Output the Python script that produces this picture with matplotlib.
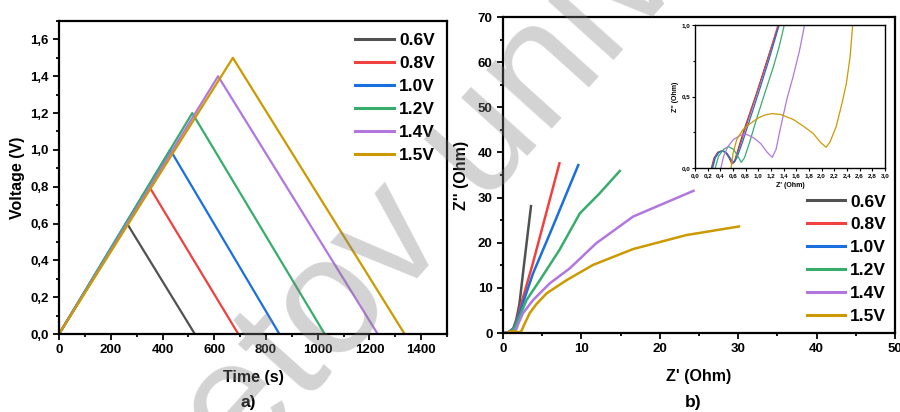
import numpy as np
import matplotlib.pyplot as plt
from matplotlib.ticker import MultipleLocator, FuncFormatter

plt.rcParams['font.family'] = ['Liberation Sans', 'DejaVu Sans']
plt.rcParams['font.weight'] = 'bold'

labels = ['0.6V', '0.8V', '1.0V', '1.2V', '1.4V', '1.5V']
colors = ['#515151', '#F14040', '#1A6FDF', '#37AD6B', '#B177DE', '#CC9900']

# GCD: (time, voltage) for charge peak and end of discharge
peak_t = [263, 349, 430, 515, 615, 672]
peak_v = [0.6, 0.8, 1.0, 1.2, 1.4, 1.5]
end_t = [525, 693, 852, 1027, 1232, 1336]

# Nyquist data, Z' and Z'' (Ohm)
zre_06 = [0.26, 0.30, 0.36, 0.42, 0.48, 0.54, 0.58, 0.62, 0.70, 0.80, 0.97, 1.15, 1.32, 1.7, 2.1, 2.6, 3.57]
zim_06 = [0.0, 0.07, 0.11, 0.12, 0.11, 0.07, 0.03, 0.04, 0.16, 0.30, 0.52, 0.77, 1.0, 3.0, 6.5, 14.0, 28.1]
zre_08 = [0.27, 0.31, 0.37, 0.43, 0.49, 0.55, 0.59, 0.63, 0.72, 0.82, 0.99, 1.15, 1.31, 1.7, 2.1, 3.8, 5.5, 7.2]
zim_08 = [0.0, 0.07, 0.11, 0.12, 0.11, 0.07, 0.03, 0.05, 0.17, 0.31, 0.54, 0.76, 1.0, 2.5, 5.1, 15.4, 26.5, 37.6]
zre_10 = [0.28, 0.32, 0.38, 0.45, 0.51, 0.57, 0.62, 0.66, 0.75, 0.86, 1.0, 1.17, 1.33, 1.7, 2.1, 3.83, 6.0, 9.6]
zim_10 = [0.0, 0.07, 0.11, 0.12, 0.10, 0.06, 0.04, 0.07, 0.18, 0.33, 0.52, 0.76, 1.0, 2.3, 4.4, 13.2, 22.1, 37.2]
zre_12 = [0.32, 0.37, 0.45, 0.53, 0.61, 0.68, 0.73, 0.78, 0.87, 0.97, 1.1, 1.24, 1.33, 1.41,
          1.7, 2.1, 3.0, 4.7, 7.2, 9.8, 12.3, 14.9]
zim_12 = [0.0, 0.08, 0.13, 0.15, 0.13, 0.08, 0.04, 0.07, 0.19, 0.34, 0.52, 0.71, 0.85, 1.0,
          2.0, 3.6, 7.3, 11.7, 18.4, 26.5, 30.9, 35.9]
zre_14 = [0.41, 0.45, 0.52, 0.61, 0.72, 0.82, 0.93, 1.04, 1.14, 1.22, 1.28, 1.35, 1.45, 1.55, 1.65, 1.73,
          1.96, 2.55, 3.83, 5.96, 8.5, 11.9, 16.6, 24.3]
zim_14 = [0.0, 0.08, 0.15, 0.20, 0.23, 0.235, 0.21, 0.17, 0.11, 0.075, 0.13, 0.28, 0.48, 0.64, 0.82, 1.0,
          2.1, 4.4, 7.3, 11.0, 14.3, 19.9, 25.8, 31.5]
zre_15 = [0.57, 0.60, 0.66, 0.76, 0.87, 1.0, 1.1, 1.21, 1.35, 1.55, 1.72, 1.87, 1.98, 2.07, 2.13, 2.23,
          2.32, 2.39, 2.45, 2.49, 2.77, 3.4, 4.26, 5.57, 8.1, 11.5, 16.6, 23.4, 30.1]
zim_15 = [0.0, 0.10, 0.20, 0.27, 0.31, 0.35, 0.37, 0.38, 0.375, 0.34, 0.29, 0.24, 0.18, 0.145, 0.18, 0.29,
          0.45, 0.59, 0.78, 1.0, 2.1, 4.4, 6.4, 8.8, 11.7, 15.1, 18.6, 21.7, 23.6]
zre = [zre_06, zre_08, zre_10, zre_12, zre_14, zre_15]
zim = [zim_06, zim_08, zim_10, zim_12, zim_14, zim_15]

comma = FuncFormatter(lambda v, p: f"{v:.1f}".replace('.', ','))


def style(ax, lw=1.6, size=9.5, major=4, minor=2.5):
    for s in ax.spines.values():
        s.set_linewidth(lw)
    ax.tick_params(which='both', direction='out', width=lw * 0.8, labelsize=size, top=False, right=False)
    ax.tick_params(which='major', length=major)
    ax.tick_params(which='minor', length=minor)
    for t in ax.get_xticklabels() + ax.get_yticklabels():
        t.set_fontweight('bold')


def big_legend(ax, **kw):
    leg = ax.legend(frameon=False, fontsize=12.5, handlelength=2.2, labelspacing=0.45,
                    handletextpad=0.3, **kw)
    for line in leg.get_lines():
        line.set_linewidth(2.2)
    for t in leg.get_texts():
        t.set_fontweight('bold')


fig = plt.figure(figsize=(9, 4.12), dpi=100)

# (a) charge-discharge
ax1 = fig.add_axes([0.0656, 0.1893, 0.4311, 0.7597])
for i in range(len(labels)):
    ax1.plot([0, peak_t[i], end_t[i]], [0, peak_v[i], 0], color=colors[i], lw=1.6, label=labels[i])
ax1.set_xlim(0, 1500)
ax1.set_ylim(0, 1.7)
ax1.xaxis.set_major_locator(MultipleLocator(200))
ax1.xaxis.set_minor_locator(MultipleLocator(100))
ax1.yaxis.set_major_locator(MultipleLocator(0.2))
ax1.yaxis.set_minor_locator(MultipleLocator(0.1))
ax1.yaxis.set_major_formatter(comma)
style(ax1)
ax1.set_xlabel('Time (s)', fontsize=11.5, fontweight='bold', labelpad=10)
ax1.set_ylabel('Voltage (V)', fontsize=11.5, fontweight='bold', labelpad=4)
big_legend(ax1, loc='upper right', borderaxespad=0.3)

# (b) Nyquist
ax2 = fig.add_axes([0.5589, 0.1917, 0.4355, 0.767])
for i in range(len(labels)):
    ax2.plot(zre[i], zim[i], color=colors[i], lw=1.8, label=labels[i])
ax2.set_xlim(0, 50)
ax2.set_ylim(0, 70)
ax2.xaxis.set_major_locator(MultipleLocator(10))
ax2.xaxis.set_minor_locator(MultipleLocator(5))
ax2.yaxis.set_major_locator(MultipleLocator(10))
ax2.yaxis.set_minor_locator(MultipleLocator(5))
style(ax2)
ax2.set_xlabel("Z' (Ohm)", fontsize=11.5, fontweight='bold', labelpad=10)
ax2.set_ylabel("Z'' (Ohm)", fontsize=11.5, fontweight='bold', labelpad=6)
big_legend(ax2, loc='lower right', borderaxespad=0.1)

# inset
ax3 = fig.add_axes([0.7722, 0.5922, 0.2111, 0.3471])
for i in range(len(labels)):
    ax3.plot(zre[i], zim[i], color=colors[i], lw=0.9)
ax3.set_xlim(0, 3)
ax3.set_ylim(0, 1)
ax3.xaxis.set_major_locator(MultipleLocator(0.2))
ax3.yaxis.set_major_locator(MultipleLocator(0.5))
ax3.yaxis.set_minor_locator(MultipleLocator(0.25))
ax3.xaxis.set_major_formatter(comma)
ax3.yaxis.set_major_formatter(comma)
style(ax3, lw=1.0, size=4.5, major=2, minor=1.2)
ax3.tick_params(pad=1.5)
ax3.set_xlabel("Z' (Ohm)", fontsize=5, fontweight='bold', labelpad=3)
ax3.set_ylabel("Z'' (Ohm)", fontsize=5, fontweight='bold', labelpad=2)

fig.text(0.276, 0.022, 'a)', fontsize=12.5, fontweight='bold', ha='center', va='center')
fig.text(0.770, 0.022, 'b)', fontsize=12.5, fontweight='bold', ha='center', va='center')

# watermark
fig.text(0.5217, 0.621, 'Buketov university', rotation=48, fontsize=120, fontweight='normal',
         color='0.5', alpha=0.35, ha='center', va='center', rotation_mode='anchor', zorder=10)

fig.savefig('out.png', dpi=100)
